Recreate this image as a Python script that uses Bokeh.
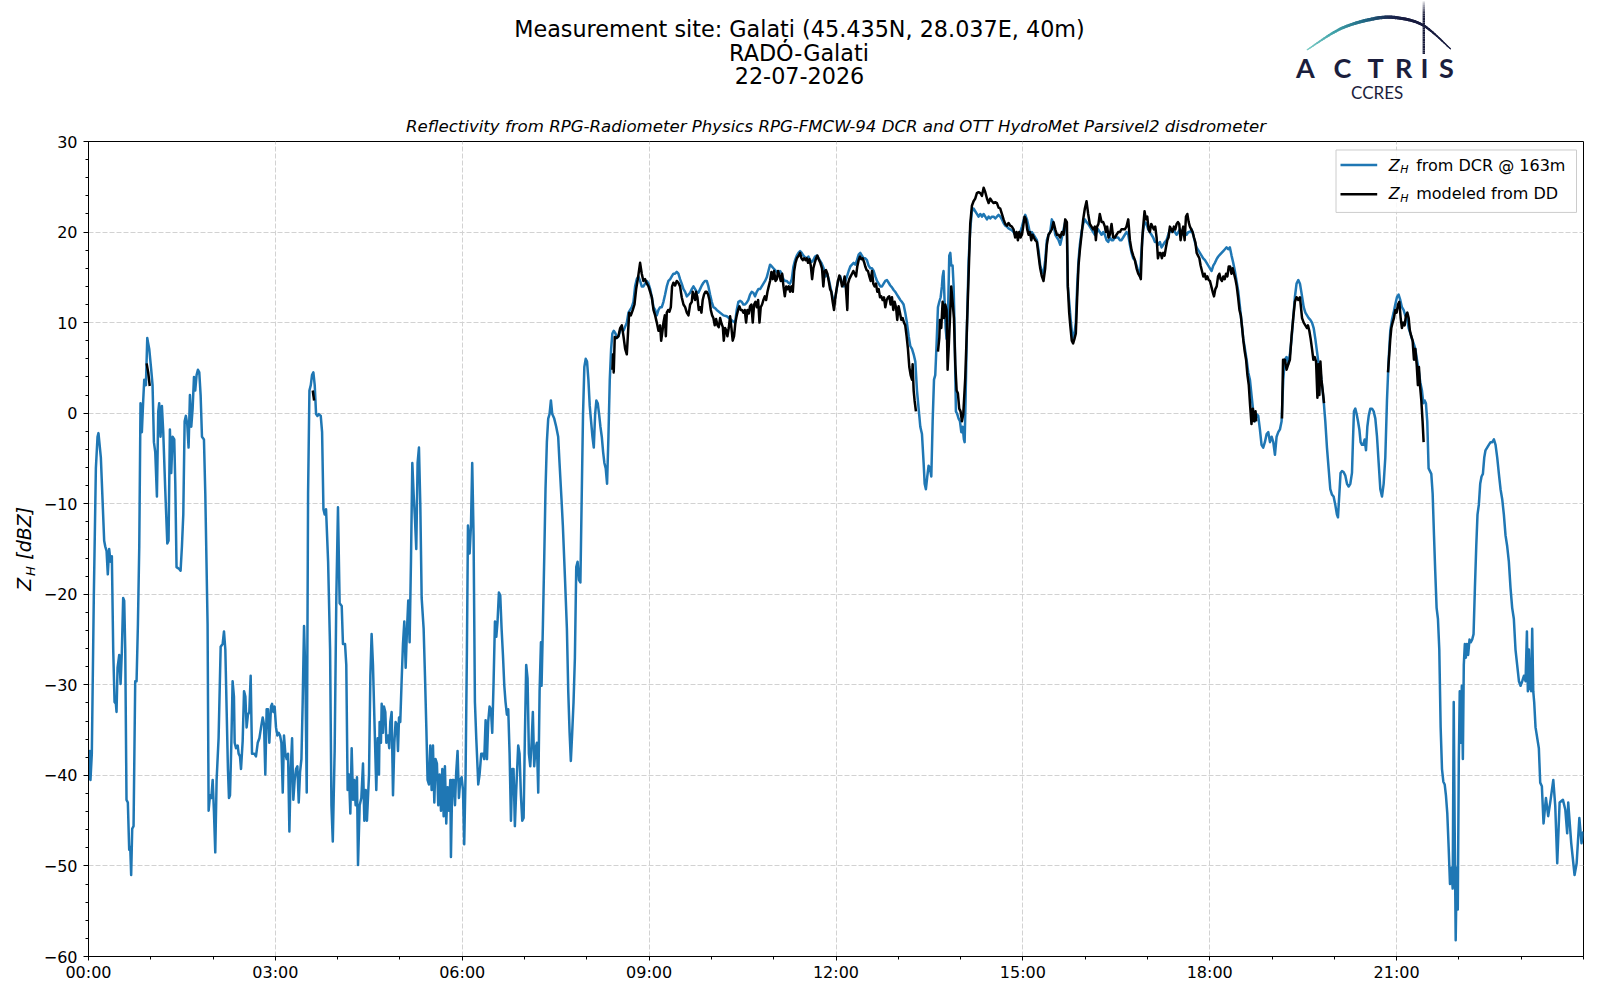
import math
from bokeh.plotting import figure
from bokeh.models import Range1d, FixedTicker
from bokeh.layouts import column, row
from bokeh.embed import file_html
from bokeh.resources import INLINE
from bokeh.core.properties import value

# ---------------- data (time in minutes after 00:00 UTC, Z in dBZ) ----------------
dcr_t_a = [0.0, 1.3, 1.9, 3.2, 5.1, 7.1, 8.7, 9.6, 11.9, 15.1,
           16.1, 17.4, 18.6, 19.9, 21.2, 22.5, 23.8, 25.1, 26.4, 27.0,
           28.0, 29.6, 30.9, 32.1, 33.4, 34.4, 35.4, 36.6, 37.9, 39.2,
           40.2, 41.1, 42.1, 43.4, 45.0, 46.3, 47.6, 48.9, 50.1, 51.4,
           52.7, 53.7, 55.3, 56.6, 57.2, 58.5, 60.4, 61.7, 63.0, 64.3,
           65.9, 67.2, 68.1, 69.4, 70.7, 72.0, 73.9, 75.9, 77.1, 78.4,
           79.7, 81.0, 82.6, 83.6, 84.8, 87.4, 88.7, 90.0, 91.3, 92.6,
           93.8, 95.1, 96.4, 97.7, 99.0, 100.3, 101.6, 102.8, 104.1, 105.4,
           106.7, 108.0, 109.3, 111.2, 112.5, 114.7, 115.7, 117.0, 118.3, 119.6,
           120.8, 122.1, 123.4, 125.3, 127.3, 129.2, 130.5, 131.8, 133.1, 134.3]
dcr_z_a = [-40.5, -37.3, -40.5, -37.6, -20.4, -6.1, -2.6, -2.2, -4.9, -14.1,
           -14.7, -15.2, -17.8, -15.0, -16.4, -15.8, -26.1, -31.9, -32.1, -33.0,
           -28.1, -26.7, -29.9, -26.4, -20.4, -20.7, -26.1, -42.7, -43.0, -48.2,
           -47.9, -51.0, -45.9, -45.6, -29.6, -29.6, -23.3, -14.7, 1.1, -2.1,
           1.4, 3.7, 3.1, 8.3, 7.9, 7.1, 4.8, 3.1, -3.2, -4.3,
           -9.2, 0.2, 1.1, -2.6, 0.8, -2.1, -8.4, -14.4, -14.1, -1.8,
           -6.6, -2.6, -2.9, -7.8, -17.0, -17.2, -17.4, -14.7, -11.2, -0.9,
           -0.3, -1.2, -3.8, 2.0, -1.5, 0.5, 4.0, 2.5, 4.2, 4.8,
           4.5, 2.0, -2.6, -2.9, -8.9, -23.3, -43.9, -42.2, -42.5, -40.5,
           -43.9, -48.5, -40.5, -35.9, -25.8, -25.5, -24.1, -26.1, -33.0, -39.3]

dcr_t_b = [135.3, 136.3, 137.6, 138.8, 140.1, 140.8, 142.1, 143.7, 144.6, 145.9,
           146.9, 148.5, 149.8, 151.1, 152.3, 153.6, 154.9, 156.2, 157.5, 159.7,
           161.3, 163.0, 164.6, 166.2, 167.8, 169.1, 170.3, 171.6, 172.9, 174.2,
           175.8, 176.8, 178.1, 179.3, 180.6, 181.9, 183.2, 184.5, 185.8, 187.1,
           188.3, 189.6, 190.9, 192.2, 193.5, 194.8, 196.1, 197.3, 198.6, 199.9,
           201.2, 202.5, 203.8, 205.1, 206.3, 207.6, 208.9, 210.2, 211.5, 212.8,
           214.1, 215.3, 216.6, 217.9, 219.2, 220.5, 221.8, 223.7, 225.0, 226.3,
           227.5, 228.8, 230.8, 232.7, 234.0, 235.3]
dcr_z_b = [-42.5, -42.2, -36.4, -29.6, -31.3, -36.4, -37.0, -36.7, -37.6, -37.9,
           -39.3, -36.2, -30.7, -31.3, -34.7, -33.3, -33.0, -29.0, -37.6, -37.6,
           -37.9, -36.4, -35.9, -34.7, -33.6, -34.4, -39.9, -32.7, -32.7, -36.4,
           -32.4, -32.1, -33.0, -32.4, -34.7, -35.6, -35.3, -35.6, -36.4, -41.9,
           -35.6, -37.6, -38.2, -37.6, -46.2, -39.3, -35.9, -42.7, -40.5, -39.3,
           -39.0, -43.0, -39.6, -38.2, -31.9, -23.5, -29.0, -41.9, -8.9, 2.5,
           3.1, 4.2, 4.5, 3.1, -0.1, -0.3, -0.1, -0.3, -2.1, -10.6,
           -11.2, -10.6, -16.4, -26.1, -43.3, -47.3]

dcr_t_c = [237.1, 238.7, 240.3, 241.9, 243.9, 245.1, 247.1, 248.3, 249.6, 250.9,
           252.2, 253.5, 254.8, 256.0, 257.3, 258.6, 259.6, 261.2, 262.8, 264.4,
           265.7, 267.0, 268.2, 270.2, 271.5, 272.7, 274.0, 275.6, 277.2, 278.5,
           279.8, 280.4, 281.7, 282.4, 283.6, 284.6, 285.9, 286.9, 288.5, 289.7,
           290.7, 292.0, 293.3, 294.6, 295.8, 297.1, 298.1, 299.1, 300.3, 301.6,
           302.9, 304.2, 305.5, 306.8, 308.0, 309.3, 310.6, 311.9, 313.2, 314.5,
           315.7, 317.0, 318.3, 319.6, 320.9, 322.8, 324.1, 325.4, 326.6, 327.9,
           329.2, 330.5, 331.8, 333.1, 334.3, 335.6, 336.9, 338.2, 339.5, 340.8,
           342.1, 343.3, 344.6, 345.9, 347.2, 348.5, 349.1, 350.4, 351.7, 353.0,
           354.2, 355.5, 356.8, 358.1, 359.4, 360.7, 361.9, 363.2, 364.5, 365.5]
dcr_z_c = [-37.3, -20.4, -10.4, -21.0, -21.3, -25.5, -25.5, -27.8, -41.6, -39.9,
           -44.2, -37.0, -42.7, -40.5, -43.3, -40.2, -49.9, -43.3, -42.5, -38.7,
           -45.0, -41.6, -45.0, -39.9, -29.0, -24.4, -27.8, -34.7, -41.6, -35.9,
           -39.9, -34.1, -36.4, -32.1, -35.3, -32.4, -33.0, -36.4, -35.6, -37.0,
           -34.1, -33.0, -42.2, -36.4, -34.1, -34.4, -37.3, -33.6, -34.1, -29.6,
           -25.5, -23.0, -28.1, -23.8, -20.7, -25.3, -16.4, -5.5, -9.0, -11.8,
           -15.0, -5.5, -3.8, -10.1, -20.4, -23.8, -29.0, -34.7, -40.5, -41.0,
           -36.7, -41.6, -36.7, -43.0, -38.2, -38.7, -43.3, -39.9, -43.9, -39.3,
           -44.5, -39.0, -45.3, -41.3, -43.9, -40.5, -49.0, -40.5, -40.5, -43.3,
           -39.6, -37.3, -42.5, -40.5, -40.2, -41.6, -47.6, -39.9, -26.1, -12.4]

dcr_t_d = [367.1, 368.4, 369.6, 370.9, 372.2, 373.5, 374.8, 375.4, 376.7, 378.3,
           379.9, 381.2, 382.5, 383.8, 385.0, 386.3, 387.6, 388.9, 390.2, 391.5,
           392.8, 394.0, 395.3, 396.6, 397.9, 399.2, 400.5, 401.7, 403.0, 404.3,
           405.6, 406.9, 408.2, 409.4, 410.7, 412.0, 413.9, 415.2, 416.5, 417.8,
           419.1, 420.3, 421.6, 422.9, 424.2, 425.5, 426.8, 428.0, 429.3, 430.6,
           431.9, 433.2, 434.5, 435.8, 436.4, 437.7, 439.0, 440.2, 441.5, 442.8,
           444.1, 445.4, 446.7, 448.6, 450.5, 452.4, 453.7, 455.6, 456.9, 458.9,
           460.8, 462.1, 463.4, 464.6, 465.9, 467.2, 468.5]
dcr_z_d = [-15.5, -12.4, -5.5, -13.5, -31.9, -35.9, -39.3, -41.0, -39.9, -37.6,
           -37.6, -38.2, -33.9, -38.2, -34.1, -32.4, -32.7, -35.3, -29.6, -23.0,
           -24.7, -23.0, -19.8, -20.1, -23.8, -26.7, -30.1, -31.9, -33.3, -32.7,
           -37.6, -45.0, -39.3, -39.3, -45.6, -41.6, -36.7, -37.6, -42.2, -45.0,
           -44.7, -35.9, -27.8, -29.3, -37.6, -39.0, -36.4, -33.0, -39.0, -37.0,
           -36.4, -41.9, -30.7, -25.3, -30.1, -23.3, -15.8, -8.4, -3.2, -0.6,
           -0.1, 1.4, -0.1, -0.6, -1.5, -2.6, -5.5, -9.5, -12.4, -18.1,
           -23.8, -30.7, -35.3, -38.4, -35.3, -31.9, -27.0]

dcr_t_e = [469.8, 471.1, 472.4, 473.8, 475.1, 476.3, 477.6, 478.9, 480.2, 481.5,
           482.8, 484.1, 485.4, 486.7, 488.0, 489.2, 490.5, 491.8, 493.1, 494.4,
           495.7, 496.9, 498.2, 499.5, 500.8, 502.1, 503.4, 504.6, 505.9, 507.6,
           509.1, 510.6, 512.1, 513.7, 515.3, 518.5, 520.1, 521.7, 523.3, 524.9,
           526.5, 528.1, 529.7, 531.3, 532.9, 534.5, 536.1, 537.8, 539.4, 541.0,
           542.6, 544.2, 545.8, 547.4, 549.0, 550.6, 552.2, 553.8, 555.4, 557.0,
           558.6, 560.3, 561.8, 563.4, 565.0, 566.6, 568.2, 569.8, 571.4, 573.1,
           574.7, 576.3, 577.9, 579.5, 581.1, 582.7, 584.3, 585.9, 587.5, 589.1,
           590.7, 592.3, 593.9, 595.5, 597.1, 598.7, 600.3, 601.9, 603.5, 605.1,
           608.4, 611.6, 614.8, 618.0, 621.2, 622.8, 624.4, 626.0, 627.6, 629.2]
dcr_z_e = [-17.0, -16.4, -18.4, -18.7, -9.0, -0.3, 5.1, 6.0, 5.7, 3.7,
           0.8, -0.9, -2.6, -3.8, -0.1, 1.4, 1.1, -0.1, -1.5, -2.6,
           -4.3, -5.5, -6.1, -7.8, -2.6, 3.7, 7.1, 8.8, 9.1, 8.8,
           8.3, 8.5, 9.1, 9.4, 9.1, 10.0, 11.1, 11.4, 11.7, 12.3,
           14.0, 14.8, 15.1, 14.6, 14.0, 14.0, 14.3, 14.6, 14.3, 13.7,
           12.8, 11.7, 11.4, 10.8, 11.4, 11.7, 11.7, 12.3, 13.1, 14.0,
           14.6, 14.8, 15.1, 15.4, 15.4, 15.6, 15.4, 14.8, 14.3, 13.7,
           13.4, 12.9, 13.1, 13.3, 13.7, 14.0, 13.7, 13.4, 13.3, 13.7,
           14.1, 14.4, 14.6, 14.6, 14.0, 13.1, 12.3, 11.7, 11.6, 11.4,
           11.1, 10.8, 10.7, 10.4, 10.1, 10.0, 11.4, 12.3, 12.4, 12.3]

dcr_t_f = [630.8, 632.4, 634.0, 635.6, 637.2, 638.8, 640.4, 642.0, 643.7, 645.2,
           646.9, 648.5, 650.1, 651.7, 653.3, 654.9, 656.5, 658.1, 659.7, 661.3,
           662.9, 664.5, 666.1, 667.7, 669.3, 670.9, 672.5, 674.1, 675.7, 677.4,
           679.0, 680.6, 682.2, 683.8, 685.4, 687.0, 688.6, 690.2, 691.8, 693.4,
           695.0, 696.6, 698.2, 699.8, 701.4]
dcr_z_f = [12.0, 12.0, 12.2, 12.5, 13.1, 13.4, 13.3, 12.9, 13.4, 13.7,
           13.7, 14.0, 14.3, 14.6, 15.0, 15.7, 16.4, 16.2, 16.0, 15.8,
           15.6, 15.4, 15.7, 15.4, 14.8, 14.6, 14.6, 14.4, 14.3, 14.8,
           16.2, 16.9, 17.4, 17.7, 17.9, 17.7, 17.4, 17.2, 17.1, 17.3,
           16.9, 16.7, 16.9, 17.3, 17.4]

dcr_t_g = [703.3, 705.9, 708.1, 709.7, 711.3, 713.0, 714.5, 716.1, 717.8, 719.4,
           721.0, 722.6, 724.2, 725.8, 727.4, 729.0, 730.6, 732.2, 733.8, 735.4,
           737.0, 738.6, 740.2, 741.8, 743.4, 745.0, 746.6, 748.2, 749.8, 751.4,
           753.1, 754.7, 756.3, 757.9, 759.5, 761.1, 762.7, 764.3, 765.9, 767.5,
           769.1, 770.7, 772.3, 773.9, 775.5, 777.1, 778.7, 780.3, 781.9, 783.5,
           785.1, 786.7, 788.3, 790.0, 791.6, 793.2, 794.8, 796.4, 798.0, 799.6,
           801.2, 802.8, 804.4, 805.4, 806.6, 807.9, 809.2, 810.5, 811.8, 813.1,
           814.4, 815.6, 816.9, 818.2, 819.5, 820.8, 822.0, 822.7, 823.6, 824.6,
           825.6, 826.5, 827.8, 829.1, 830.1, 831.0, 832.3, 833.3, 834.2, 835.5,
           836.8, 838.1, 839.4, 840.7, 842.0, 843.2, 843.9, 844.8, 846.1, 847.7]
dcr_z_g = [17.1, 16.6, 16.0, 15.1, 15.4, 14.8, 14.0, 13.1, 12.3, 12.8,
           14.0, 14.8, 15.1, 14.3, 14.0, 14.6, 15.1, 15.7, 16.2, 16.4,
           16.6, 16.4, 16.9, 17.5, 17.7, 17.4, 17.1, 17.1, 16.9, 16.3,
           16.0, 16.0, 15.7, 15.1, 14.6, 14.3, 14.0, 14.0, 14.3, 14.6,
           14.7, 14.4, 14.1, 13.9, 13.6, 13.4, 13.1, 12.8, 12.5, 12.3,
           12.0, 11.1, 10.0, 8.5, 7.4, 7.1, 6.5, 5.7, 2.5, 0.5,
           -1.5, -2.3, -5.5, -7.8, -8.4, -7.0, -5.8, -6.1, -7.0, -0.9,
           3.7, 4.2, 7.7, 11.7, 12.3, 12.8, 14.0, 15.1, 15.7, 12.3,
           9.4, 8.2, 10.5, 17.4, 17.7, 16.3, 16.3, 14.0, 9.4, 0.2,
           -0.1, -0.6, -0.9, -2.1, -1.5, -2.9, -3.2, 1.4, 9.4, 16.8]

dcr_t_h = [849.3, 850.9, 852.5, 854.1, 855.7, 857.3, 859.0, 860.6, 862.2, 863.8,
           865.4, 867.0, 868.6, 870.2, 871.8, 873.4, 875.0, 876.6, 878.2, 879.8,
           881.4, 883.0, 884.6, 886.2, 887.8, 889.4, 891.0, 892.6, 894.2, 895.9,
           897.5, 899.1, 900.7, 902.3, 903.9, 905.5, 907.1, 908.7, 910.3, 911.9,
           913.5, 915.1, 916.7, 918.3, 919.9, 921.5, 923.1, 924.7, 926.3, 927.9,
           929.5, 931.2, 932.8, 934.4, 936.0, 937.6, 939.2, 940.8, 942.4]
dcr_z_h = [20.3, 22.3, 22.6, 22.3, 22.0, 21.7, 22.0, 21.7, 22.0, 21.7,
           21.4, 21.7, 21.5, 21.7, 21.7, 21.5, 21.7, 21.9, 21.7, 21.4,
           21.0, 20.7, 20.6, 20.4, 20.3, 20.2, 20.0, 19.7, 19.7, 19.8,
           20.0, 20.6, 21.3, 21.9, 21.4, 20.6, 19.7, 20.0, 19.7, 19.4,
           19.1, 18.0, 16.3, 15.7, 15.4, 16.9, 19.1, 19.7, 20.0, 21.4,
           20.9, 19.7, 19.4, 19.1, 18.6, 19.4, 20.3, 21.1, 19.7]

dcr_t_i = [943.3, 944.6, 945.9, 947.1, 948.4, 949.7, 951.0, 952.3, 953.6, 954.9,
           956.5, 958.1, 959.7, 961.3, 962.9, 964.5, 966.1, 967.7, 969.3, 970.9,
           972.5, 974.1, 975.8, 977.4, 979.0, 980.6, 982.2, 983.8, 985.4, 987.0,
           988.6, 990.2, 991.8, 993.4, 995.0, 996.6, 998.2, 999.8, 1001.5, 1003.1,
           1004.7, 1006.3, 1007.9, 1009.5, 1011.1, 1012.7, 1014.3, 1015.9, 1017.5, 1019.1,
           1020.7, 1022.3, 1023.9, 1025.5, 1027.2, 1028.8, 1030.4, 1032.0, 1033.6, 1035.2,
           1036.8, 1038.4, 1040.0, 1041.6, 1043.2, 1044.8, 1046.4, 1048.1, 1049.7, 1051.3,
           1052.9, 1054.5, 1056.1, 1057.7, 1059.3, 1060.9, 1062.5, 1064.1, 1065.7, 1067.3,
           1068.9, 1070.5, 1072.1, 1073.7, 1075.4, 1077.0, 1078.6, 1080.2, 1081.8, 1083.4,
           1085.0, 1086.6, 1088.2, 1089.8, 1091.4, 1093.0, 1094.6, 1096.2, 1097.8, 1099.4]
dcr_z_i = [14.0, 12.3, 10.5, 9.1, 8.2, 8.8, 10.0, 14.0, 16.9, 18.6,
           20.0, 20.9, 21.4, 21.1, 20.9, 20.6, 20.3, 20.0, 19.7, 20.0,
           20.3, 20.0, 19.7, 20.0, 19.7, 19.1, 18.9, 19.4, 19.1, 19.1,
           19.4, 19.4, 19.4, 19.1, 19.1, 19.4, 19.7, 20.0, 19.7, 18.6,
           17.7, 17.1, 16.9, 16.3, 15.7, 15.1, 18.0, 20.3, 21.1, 20.9,
           20.3, 20.0, 19.7, 19.4, 18.9, 18.9, 18.6, 18.9, 18.3, 18.6,
           18.9, 19.1, 19.7, 20.3, 20.0, 20.3, 20.0, 19.7, 20.0, 20.3,
           20.0, 19.7, 20.0, 19.7, 20.0, 20.0, 20.3, 19.7, 18.9, 18.3,
           18.0, 17.7, 17.4, 17.1, 16.9, 16.6, 16.3, 16.0, 15.7, 16.3,
           16.6, 17.0, 17.3, 17.5, 17.7, 17.9, 18.1, 18.3, 18.1, 18.3]

dcr_t_j = [1101.0, 1102.6, 1104.2, 1105.8, 1107.5, 1109.1, 1110.7, 1112.3, 1113.9, 1115.5,
           1117.1, 1118.7, 1120.3, 1121.9, 1123.5, 1125.1, 1126.7, 1128.3, 1129.9, 1131.5,
           1133.1, 1134.8, 1136.4, 1138.0, 1139.6, 1141.2, 1142.8, 1144.4, 1146.0, 1147.6,
           1149.2, 1150.8, 1152.4, 1154.0, 1155.6, 1157.2, 1158.8, 1160.4, 1162.0, 1163.6,
           1165.3, 1166.9]
dcr_z_j = [17.4, 16.6, 15.7, 14.6, 13.4, 11.7, 10.0, 8.2, 7.1, 5.9,
           4.5, 3.7, 1.9, 0.2, -0.9, -0.1, -0.3, -1.8, -3.5, -3.8,
           -3.2, -2.3, -2.1, -3.2, -2.6, -3.2, -4.6, -2.6, -2.1, -1.8,
           -0.9, 3.7, 5.9, 6.2, 5.4, 6.5, 8.2, 10.5, 12.8, 14.3,
           14.7, 14.3]

dcr_t_k = [1168.9, 1170.5, 1172.1, 1173.7, 1175.3, 1176.9, 1178.5, 1180.1, 1181.7, 1183.3,
           1184.9, 1186.5, 1188.1, 1189.7, 1191.3, 1192.9, 1194.5, 1196.1, 1197.7, 1199.3,
           1200.9, 1202.5, 1203.5, 1204.8, 1206.0, 1207.4, 1208.9, 1210.6, 1212.2, 1213.8,
           1215.4, 1217.0, 1217.9, 1218.9, 1220.2, 1221.5, 1222.8, 1224.1, 1225.3, 1226.6,
           1227.9, 1229.2, 1230.5, 1231.8, 1233.1, 1234.6, 1236.3, 1237.9, 1239.5, 1241.1,
           1242.7, 1244.3, 1245.9, 1247.5, 1249.1, 1250.7, 1252.3, 1253.9, 1255.5, 1257.1,
           1258.7, 1260.3, 1261.9, 1263.5, 1265.1, 1266.7, 1268.3, 1269.9, 1271.6, 1273.2,
           1274.8, 1276.4, 1278.0, 1279.6, 1281.2, 1282.8, 1284.4, 1285.7, 1287.0, 1288.2,
           1289.5, 1290.8, 1292.1, 1293.4, 1294.7, 1296.0, 1297.2, 1298.5, 1299.8, 1301.1,
           1302.4, 1303.7, 1305.0, 1306.3, 1307.5, 1308.8, 1310.1, 1311.4, 1312.7, 1314.0]
dcr_z_k = [12.9, 11.7, 11.1, 10.8, 10.5, 10.3, 10.0, 9.4, 8.2, 6.8,
           5.4, 4.8, 3.1, 1.4, -0.9, -3.8, -6.1, -8.4, -9.0, -9.2,
           -10.1, -11.2, -11.5, -9.0, -6.6, -6.4, -6.5, -6.9, -7.8, -8.1,
           -7.8, -6.6, -3.2, 0.2, 0.5, -0.1, -0.9, -1.8, -3.2, -3.5,
           -3.5, -2.9, -4.1, -1.5, -0.3, 0.5, 0.5, 0.2, -0.6, -2.6,
           -5.5, -8.4, -9.2, -7.8, -4.9, 1.4, 5.9, 9.1, 10.3, 11.1,
           12.0, 12.8, 13.1, 12.5, 11.7, 11.4, 10.8, 10.5, 9.4, 8.8,
           8.2, 7.7, 7.1, 5.9, 4.8, 3.4, 2.5, 1.1, 1.4, 1.1,
           -0.9, -6.1, -6.4, -6.7, -8.9, -13.5, -17.5, -21.5, -22.7, -26.1,
           -34.7, -39.3, -40.7, -41.0, -42.2, -44.2, -47.9, -52.0, -50.2, -52.5]

dcr_t_l = [1315.0, 1315.9, 1316.9, 1317.9, 1318.9, 1319.9, 1320.8, 1321.8, 1322.8, 1323.8,
           1324.7, 1325.7, 1326.7, 1327.7, 1328.9, 1330.2, 1331.5, 1332.8, 1334.1, 1335.4,
           1336.7, 1337.9, 1339.2, 1340.5, 1341.8, 1343.1, 1344.4, 1345.6, 1347.2, 1348.8,
           1350.5, 1352.1, 1353.7, 1355.3, 1356.9, 1358.5, 1360.1, 1361.7, 1363.3, 1364.9,
           1366.5, 1368.1, 1369.7, 1371.3, 1372.9, 1374.5, 1376.1, 1377.8, 1379.4, 1381.0,
           1382.6, 1384.2, 1385.5, 1386.4, 1387.4, 1388.7, 1389.6, 1390.6, 1391.6, 1392.5,
           1393.8, 1397.0, 1398.3, 1399.9, 1401.5, 1403.8, 1406.0, 1408.3, 1410.9, 1412.8,
           1414.7, 1417.0, 1420.2, 1422.5, 1424.3, 1425.3, 1428.2, 1431.4, 1433.4, 1436.0,
           1438.1, 1439.8]
dcr_z_l = [-31.9, -45.6, -58.2, -50.2, -54.8, -38.2, -30.7, -36.4, -30.1, -38.2,
           -27.8, -25.5, -27.0, -25.5, -26.7, -25.0, -25.3, -25.0, -24.4, -19.3,
           -14.7, -11.2, -10.1, -7.8, -7.0, -6.7, -4.9, -4.1, -3.8, -3.5,
           -3.2, -3.2, -2.9, -3.5, -4.9, -6.7, -8.4, -9.5, -11.2, -13.5,
           -14.7, -16.4, -19.3, -21.5, -22.7, -26.1, -27.8, -29.6, -30.1, -29.6,
           -29.0, -29.6, -24.1, -30.7, -26.1, -30.4, -30.7, -23.8, -30.7, -31.9,
           -34.7, -37.0, -40.8, -41.2, -45.3, -42.5, -44.5, -42.7, -40.5, -43.4,
           -49.7, -43.0, -42.7, -43.8, -46.4, -43.0, -47.5, -51.0, -49.7, -44.7,
           -47.5, -46.2]

# Z modeled from disdrometer (DD): separate continuous pieces
dd1_t = [56.0, 57.5, 59.0]
dd1_z = [5.5, 4.5, 3.0]
dd2_t = [216.0, 217.3]
dd2_z = [2.5, 1.4]
dd3_t = [504.6, 505.3, 505.9, 506.9, 508.4, 510.4, 512.1, 513.7, 515.3, 516.9,
         518.5, 519.5, 520.8, 522.4, 524.3, 525.9, 527.5, 529.1, 531.3, 532.9,
         534.5, 536.1, 537.8, 539.4, 541.0, 542.6, 544.2, 545.8, 547.4, 549.0,
         550.6, 551.6, 552.9, 553.8, 555.1, 556.1, 557.0, 558.3, 559.6, 560.9,
         562.1, 563.4, 565.0, 566.6, 568.2, 569.8, 571.4, 573.1, 574.7, 576.3,
         577.9, 579.5, 581.1, 582.0, 583.3, 584.3, 585.2, 586.5, 587.8, 589.1,
         590.4, 591.6, 592.9, 594.2, 595.5, 596.8, 598.1, 599.4, 600.7, 601.9,
         603.2, 604.5, 605.8, 607.1, 608.4, 609.7, 611.0, 611.9, 613.2, 614.5,
         615.4, 616.7, 618.0, 619.3, 620.5, 621.8, 623.1, 624.4, 625.7, 627.0,
         628.2, 629.5, 630.8, 632.1, 633.4, 634.7, 636.0, 637.2, 638.5, 639.8]
dd3_z = [4.8, 6.5, 4.5, 8.4, 8.3, 8.5, 9.4, 9.7, 8.5, 7.1,
         6.5, 8.5, 11.1, 10.8, 11.4, 12.0, 13.7, 14.8, 16.6, 15.4,
         14.6, 14.8, 14.3, 14.0, 13.4, 12.8, 11.4, 10.8, 10.0, 9.1,
         9.7, 8.0, 9.1, 10.0, 10.8, 8.5, 11.1, 11.4, 11.2, 11.7,
         14.0, 14.4, 14.1, 14.6, 14.4, 14.0, 12.8, 12.0, 11.7, 11.1,
         10.8, 12.0, 12.3, 13.4, 12.9, 12.5, 13.4, 12.8, 11.4, 11.7,
         11.1, 12.5, 13.1, 13.4, 13.4, 13.1, 12.5, 11.4, 10.8, 10.5,
         9.7, 10.4, 9.7, 9.5, 10.5, 9.9, 9.5, 8.0, 9.4, 9.1,
         8.5, 9.4, 10.7, 9.4, 8.0, 8.5, 10.0, 10.8, 11.4, 11.8,
         11.4, 11.4, 11.1, 11.4, 10.0, 11.4, 11.0, 11.8, 12.0, 10.0]
dd4_t = [641.1, 642.4, 643.7, 645.0, 646.3, 647.5, 648.8, 650.1, 651.4, 652.7,
         654.0, 655.2, 656.5, 657.8, 659.1, 660.4, 661.7, 663.0, 664.2, 665.5,
         666.8, 668.1, 669.4, 670.7, 672.0, 673.3, 674.5, 675.8, 677.1, 678.4,
         679.7, 681.0, 682.3, 684.2, 685.4, 686.7, 688.0, 689.3, 690.6, 691.8,
         693.1, 694.4, 695.7, 697.0, 698.2, 699.5, 700.8, 702.1]
dd4_z = [12.0, 12.3, 11.7, 12.5, 10.0, 11.7, 12.0, 12.5, 12.9, 12.5,
         13.4, 14.0, 14.6, 15.6, 14.8, 15.7, 14.6, 14.8, 15.7, 15.2,
         14.6, 15.4, 14.0, 12.9, 14.0, 13.7, 14.0, 13.4, 14.0, 13.4,
         15.7, 16.6, 17.1, 17.4, 17.7, 17.1, 16.9, 17.1, 16.9, 17.1,
         16.6, 17.0, 16.3, 14.8, 16.0, 16.6, 17.1, 17.4]
dd5_t = [703.3, 704.9, 706.5, 707.8, 709.1, 710.4, 711.7, 713.0, 714.3, 715.5,
         716.8, 718.1, 719.4, 720.6, 721.9, 723.2, 724.5, 725.8, 727.1, 728.3,
         729.6, 730.9, 731.6, 732.8, 734.1, 735.4, 736.7, 738.0, 739.3, 740.5,
         741.8, 743.1, 744.4, 745.7, 747.0, 748.2, 749.5, 750.8, 752.1, 753.4,
         754.7, 755.9, 757.2, 758.5, 759.8, 761.1, 762.4, 763.6, 764.9, 766.2,
         767.5, 768.8, 770.1, 771.3, 772.6, 773.9, 775.2, 776.5, 777.8, 779.0,
         780.3, 781.6, 782.9, 784.2, 785.5, 786.7, 788.0, 789.3, 790.6, 791.9,
         793.2, 793.8, 794.8, 795.7, 797.0]
dd5_z = [17.0, 16.6, 16.0, 14.0, 15.7, 15.8, 15.4, 14.6, 13.7, 13.4,
         12.3, 11.4, 12.8, 13.7, 14.6, 15.2, 14.8, 14.0, 14.3, 15.1,
         13.7, 11.4, 14.3, 14.8, 15.1, 15.4, 15.7, 15.4, 15.1, 16.2,
         16.9, 17.3, 17.0, 17.1, 16.7, 16.2, 15.8, 15.7, 15.1, 14.6,
         15.7, 14.3, 14.0, 14.3, 13.4, 13.7, 12.8, 12.9, 12.5, 12.8,
         11.7, 12.5, 12.8, 12.9, 12.0, 12.8, 11.4, 12.3, 11.7, 10.3,
         11.8, 11.1, 10.3, 10.5, 10.0, 9.7, 8.5, 7.1, 5.1, 4.2,
         3.7, 5.4, 2.5, 1.4, 0.2]
dd6_t = [818.2, 819.5, 820.1, 821.4, 822.7, 824.0, 825.3, 826.5, 827.5, 828.5,
         829.8, 831.0, 832.3, 833.6, 834.9, 836.2, 837.4, 838.7, 840.0, 841.3,
         842.6, 844.5, 846.1, 847.7, 849.3, 850.9, 852.5, 854.1, 855.7, 857.3,
         859.0, 860.6, 862.2, 863.8, 865.4, 867.0, 868.6, 870.2, 871.8, 873.4,
         875.0, 876.6, 878.2, 879.8, 881.4, 883.0, 884.6, 886.2, 887.8, 889.4,
         891.0, 892.6, 893.9, 895.2, 896.5, 897.8, 899.1, 900.3, 901.6, 902.9,
         904.2, 905.5, 906.8, 908.1, 909.4, 910.6, 911.9, 913.5, 915.1, 916.7,
         918.3, 919.9, 921.5, 923.1, 924.7, 926.3, 927.9, 929.5, 931.2, 932.8,
         934.4, 936.0, 937.6, 939.2, 940.8, 942.4]
dd6_z = [6.8, 8.3, 10.3, 9.4, 12.3, 10.5, 12.0, 11.4, 4.8, 7.1,
         10.5, 14.0, 12.3, 10.5, 5.4, 2.5, 2.2, 0.5, 0.2, -0.9,
         -0.1, 3.9, 9.4, 15.1, 20.9, 22.9, 23.4, 23.7, 24.3, 24.4,
         24.3, 24.0, 24.9, 24.4, 23.7, 23.2, 23.7, 23.4, 23.2, 23.3,
         23.2, 22.7, 22.6, 22.0, 21.4, 20.9, 20.7, 21.0, 20.7, 20.6,
         20.3, 19.4, 20.0, 19.1, 20.0, 19.4, 19.7, 20.6, 21.7, 21.4,
         20.3, 19.7, 20.0, 19.1, 19.7, 19.4, 19.1, 18.9, 17.4, 16.0,
         15.1, 14.6, 16.0, 18.6, 19.7, 20.0, 20.3, 21.1, 20.3, 19.7,
         19.7, 19.4, 20.0, 19.7, 21.4, 21.1]
dd7_t = [943.3, 944.6, 945.9, 947.1, 948.4, 949.7, 951.0, 952.3, 953.6, 954.9,
         956.5, 958.1, 959.7, 961.3, 962.9, 964.5, 966.1, 967.7, 969.3, 970.3,
         971.5, 972.8, 974.1, 975.8, 977.4, 979.0, 979.9, 981.2, 982.5, 983.8,
         985.4, 987.0, 988.6, 990.2, 991.8, 993.4, 995.0, 996.6, 998.2, 999.8,
         1001.5, 1003.1, 1004.7, 1006.3, 1007.9, 1009.5, 1011.1, 1012.7, 1013.6, 1014.9,
         1015.9, 1017.2, 1018.5, 1019.8, 1021.1, 1022.3, 1023.6, 1024.9, 1026.2, 1027.5,
         1028.8, 1030.1, 1031.3, 1032.6, 1033.9, 1035.2, 1036.5, 1037.8, 1039.1, 1040.3,
         1041.6, 1042.9, 1044.2, 1045.5, 1046.8, 1048.1, 1049.4, 1050.6, 1051.9, 1053.2,
         1054.5, 1055.8, 1057.1, 1058.4, 1059.7, 1060.9, 1062.2, 1063.5, 1064.8, 1066.1,
         1067.4, 1068.7, 1070.0, 1071.2, 1072.5, 1073.8, 1075.1, 1076.4, 1077.7, 1079.0]
dd7_z = [14.0, 11.1, 9.4, 8.0, 7.7, 8.2, 8.8, 12.8, 16.3, 18.0,
         19.7, 21.4, 22.6, 23.4, 22.0, 20.9, 20.6, 20.3, 20.6, 19.1,
         20.6, 20.9, 22.0, 21.1, 21.1, 20.6, 20.0, 20.6, 19.4, 19.7,
         20.9, 19.4, 19.4, 19.7, 20.0, 20.0, 20.3, 20.3, 20.3, 20.6,
         21.4, 19.1, 18.0, 17.4, 16.9, 16.0, 15.4, 15.1, 14.8, 19.1,
         20.6, 22.3, 21.4, 21.7, 20.3, 20.0, 20.9, 20.6, 20.3, 20.6,
         19.4, 17.1, 17.7, 17.7, 17.1, 17.7, 17.4, 18.3, 19.1, 19.4,
         20.6, 20.3, 20.0, 20.6, 20.3, 20.9, 21.1, 20.9, 19.1, 20.0,
         20.6, 19.1, 21.7, 22.0, 21.1, 20.6, 20.3, 20.0, 19.4, 18.9,
         17.7, 17.4, 17.1, 16.3, 15.7, 15.1, 15.4, 14.8, 15.1, 14.7]
dd8_t = [1080.2, 1081.5, 1082.8, 1084.1, 1085.4, 1086.7, 1088.0, 1089.3, 1090.5, 1091.8,
         1093.1, 1094.4, 1095.7, 1097.0, 1098.3, 1099.6, 1100.9, 1102.1, 1103.4, 1104.7,
         1106.0, 1107.3, 1108.6, 1109.9, 1111.2, 1112.4, 1113.7, 1115.0, 1116.3, 1117.6,
         1118.9, 1120.2, 1121.5, 1122.8, 1124.1, 1124.7]
dd8_z = [14.6, 14.0, 13.4, 12.9, 13.7, 14.0, 15.1, 15.4, 14.8, 14.6,
         15.1, 14.8, 15.4, 15.1, 16.2, 16.2, 15.4, 16.0, 15.4, 14.8,
         14.0, 12.8, 11.4, 10.8, 9.4, 8.0, 6.8, 5.9, 4.2, 3.1,
         0.8, -1.2, 0.5, -0.9, 0.2, -0.9]
dd9_t = [1149.6, 1150.6, 1152.4, 1154.0, 1155.6, 1157.2, 1158.8, 1160.4, 1162.0, 1163.6,
         1165.3, 1166.9, 1168.9, 1170.5, 1172.1, 1173.7, 1174.6, 1175.9, 1177.2, 1178.5,
         1179.8, 1181.1, 1182.4, 1183.7, 1184.6, 1185.6, 1186.6, 1187.6, 1188.8, 1190.1]
dd9_z = [-0.6, 5.9, 5.9, 4.8, 5.4, 5.9, 8.5, 10.5, 12.3, 12.8,
         12.5, 12.8, 10.5, 10.0, 9.7, 9.4, 9.7, 9.1, 8.2, 7.1,
         5.9, 6.2, 5.7, 1.7, 5.4, 2.0, 5.7, 3.7, 2.5, 1.1]
dd10_t = [1251.7, 1252.9, 1253.9, 1254.9, 1256.1, 1257.4, 1258.7, 1260.0, 1261.3, 1262.6,
          1263.9, 1265.1, 1266.4, 1267.7, 1269.0, 1270.3, 1271.6, 1272.8, 1274.1, 1275.4,
          1276.7, 1278.0, 1279.3, 1280.5, 1281.5, 1282.5, 1283.8, 1285.0, 1286.0]
dd10_z = [4.5, 6.5, 8.2, 9.4, 10.0, 10.5, 11.4, 11.1, 12.0, 12.3,
          10.5, 9.4, 10.0, 9.7, 10.8, 11.1, 10.5, 9.1, 8.5, 8.0,
          5.9, 7.1, 5.4, 3.1, 5.1, 3.1, 1.4, -0.9, -3.2]

x_tick_minutes = [0, 180, 360, 540, 720, 900, 1080, 1260]
x_tick_labels = ["00:00", "03:00", "06:00", "09:00", "12:00", "15:00", "18:00", "21:00"]
y_ticks = [-60, -50, -40, -30, -20, -10, 0, 10, 20, 30]
y_tick_labels = ["\u221260", "\u221250", "\u221240", "\u221230", "\u221220", "\u221210", "0", "10", "20", "30"]

title_lines = ["Measurement site: Gala\u021bi (45.435N, 28.037E, 40m)", "RAD\u00d3-Galati", "22-07-2026"]
subtitle = "Reflectivity from RPG-Radiometer Physics RPG-FMCW-94 DCR and OTT HydroMet Parsivel2 disdrometer"
legend_rest = ["from DCR @ 163m", "modeled from DD"]

# ---------------- assemble ----------------
dcr_t, dcr_z = [], []
for tt, zz in [(dcr_t_a, dcr_z_a), (dcr_t_b, dcr_z_b), (dcr_t_c, dcr_z_c), (dcr_t_d, dcr_z_d),
               (dcr_t_e, dcr_z_e), (dcr_t_f, dcr_z_f), (dcr_t_g, dcr_z_g), (dcr_t_h, dcr_z_h),
               (dcr_t_i, dcr_z_i), (dcr_t_j, dcr_z_j), (dcr_t_k, dcr_z_k), (dcr_t_l, dcr_z_l)]:
    n = min(len(tt), len(zz))
    dcr_t += tt[:n]
    dcr_z += zz[:n]

dd_xs = [dd1_t, dd2_t, dd3_t + dd4_t + dd5_t, dd6_t + dd7_t + dd8_t, dd9_t, dd10_t]
dd_ys = [dd1_z, dd2_z, dd3_z + dd4_z + dd5_z, dd6_z + dd7_z + dd8_z, dd9_z, dd10_z]
dd_xs2, dd_ys2 = [], []
for a, b in zip(dd_xs, dd_ys):
    n = min(len(a), len(b))
    dd_xs2.append(a[:n])
    dd_ys2.append(b[:n])

# ---------------- layout constants (canvas pixels) ----------------
W = 1584
HEAD_H = 104
FRAME_L, FRAME_R = 88, 1583
FRAME_T, FRAME_B = 141, 957
TOTAL_H = 984
YLAB_W = 40
MAIN_W = W - YLAB_W
MAIN_H = TOTAL_H - HEAD_H
BT = FRAME_T - HEAD_H
BB = TOTAL_H - FRAME_B
BLUE = "#1f77b4"
NAVY = "#1b1e3d"
FONT = "DejaVu Sans"
LW = 2.5

# ---------------- header figure (pixel coordinates, y downward) ----------------
head = figure(width=W, height=HEAD_H, x_range=Range1d(FRAME_L, FRAME_R), y_range=Range1d(HEAD_H, 0),
              output_backend="svg", toolbar_location=None,
              min_border_left=FRAME_L, min_border_right=W - FRAME_R, min_border_top=0, min_border_bottom=0,
              x_axis_type=None, y_axis_type=None)
head.outline_line_color = None

head.text(x=[799, 798.5, 799], y=[28.3, 52.2, 74.7], text=title_lines,
          text_font=value(FONT), text_font_size=value("22.3px"), text_color="black",
          text_align="center", text_baseline="middle")

def grad(t):
    stops = [(0.0, (125, 205, 198)), (0.2, (62, 160, 168)), (0.42, (32, 100, 130)),
             (0.58, (28, 42, 82)), (0.7, (22, 26, 62)), (1.0, (22, 26, 62))]
    for (t0, c0), (t1, c1) in zip(stops[:-1], stops[1:]):
        if t <= t1:
            f = (t - t0) / (t1 - t0) if t1 > t0 else 0
            c = [int(round(c0[k] + (c1[k] - c0[k]) * f)) for k in range(3)]
            return "#%02x%02x%02x" % tuple(c)
    return "#16183e"

# logo arc: smooth Catmull-Rom curve through guide points (pixel layout of the logo)
arc_pts = [(1306.7, 49.3), (1340.0, 28.3), (1373.0, 18.3), (1396.7, 17.3), (1423.0, 25.0), (1450.0, 48.3)]
curve = []
M = 16
for i in range(len(arc_pts) - 1):
    p0 = arc_pts[i - 1] if i > 0 else arc_pts[i]
    p1, p2 = arc_pts[i], arc_pts[i + 1]
    p3 = arc_pts[i + 2] if i + 2 < len(arc_pts) else arc_pts[i + 1]
    for k in range(M):
        s = k / M
        s2, s3 = s * s, s * s * s
        xx = 0.5 * ((2 * p1[0]) + (-p0[0] + p2[0]) * s + (2 * p0[0] - 5 * p1[0] + 4 * p2[0] - p3[0]) * s2
                    + (-p0[0] + 3 * p1[0] - 3 * p2[0] + p3[0]) * s3)
        yy = 0.5 * ((2 * p1[1]) + (-p0[1] + p2[1]) * s + (2 * p0[1] - 5 * p1[1] + 4 * p2[1] - p3[1]) * s2
                    + (-p0[1] + 3 * p1[1] - 3 * p2[1] + p3[1]) * s3)
        curve.append((xx, yy))
curve.append(arc_pts[-1])
xa, xb = arc_pts[0][0], arc_pts[-1][0]
sx0, sy0, sx1, sy1, scol, swid = [], [], [], [], [], []
for (ax_, ay_), (bx_, by_) in zip(curve[:-1], curve[1:]):
    tm = ((ax_ + bx_) / 2 - xa) / (xb - xa)
    sx0.append(ax_); sy0.append(ay_); sx1.append(bx_); sy1.append(by_)
    scol.append(grad(tm))
    swid.append(1.1 + 2.2 * math.sin(math.pi * min(1.0, max(0.0, tm))) ** 0.8)
head.segment(x0=sx0, y0=sy0, x1=sx1, y1=sy1, line_color=scol, line_width=swid, line_cap="round")

vy = [1.0 + k * 1.75 for k in range(31)]
head.segment(x0=[1423.3] * 30, y0=vy[:-1], x1=[1423.3] * 30, y1=vy[1:],
             line_color=NAVY, line_width=2.4,
             line_alpha=[min(1.0, 0.12 + 0.88 * (v / 14.0)) for v in vy[:-1]])

head.text(x=[1305, 1342, 1375, 1403.3, 1424, 1445.8], y=[67.3] * 6,
          text=["A", "C", "T", "R", "I", "S"], text_font=value("Lato"), text_font_style="bold",
          text_font_size=value("27px"), text_color=NAVY,
          text_align="center", text_baseline="middle")
head.text(x=[1376.7], y=[92.2], text=["CCRES"], text_font=value("Lato"),
          text_font_size=value("17px"), text_color=NAVY,
          text_align="center", text_baseline="middle")

# ---------------- main figure ----------------
p = figure(width=MAIN_W, height=MAIN_H, x_range=Range1d(0, 1440), y_range=Range1d(-60, 30),
           output_backend="svg", toolbar_location=None,
           min_border_left=FRAME_L - YLAB_W, min_border_right=W - FRAME_R,
           min_border_top=BT, min_border_bottom=BB)
p.outline_line_color = "black"
p.outline_line_width = 1

p.title.text = subtitle
p.title.align = "center"
p.title.text_font = FONT
p.title.text_font_style = "italic"
p.title.text_font_size = "16.6px"
p.title.text_color = "black"
p.title.standoff = 11

p.xaxis.ticker = FixedTicker(ticks=x_tick_minutes, minor_ticks=list(range(0, 1441, 60)))
p.yaxis.ticker = FixedTicker(ticks=y_ticks, minor_ticks=list(range(-60, 31, 2)))
p.xaxis.major_label_overrides = {t: s for t, s in zip(x_tick_minutes, x_tick_labels)}
p.yaxis.major_label_overrides = {t: s for t, s in zip(y_ticks, y_tick_labels)}
for ax in (p.xaxis, p.yaxis):
    ax.axis_line_color = "black"
    ax.axis_line_width = 1
    ax.major_tick_line_color = "black"
    ax.minor_tick_line_color = "black"
    ax.major_tick_in = 0
    ax.minor_tick_out = 3
    ax.minor_tick_in = 0
    ax.major_label_text_font = FONT
    ax.major_label_text_font_size = "16px"
    ax.major_label_text_color = "black"
p.xaxis.major_tick_out = 4
p.yaxis.major_tick_out = 5
p.xaxis.major_label_standoff = 2
p.yaxis.major_label_standoff = 6

p.xgrid.ticker = FixedTicker(ticks=x_tick_minutes)
p.ygrid.ticker = FixedTicker(ticks=y_ticks)
p.grid.grid_line_color = "#d2d2d2"
p.grid.grid_line_width = 1
p.grid.grid_line_dash = "5 2"

p.line(dcr_t, dcr_z, line_color=BLUE, line_width=LW, line_join="round")
p.multi_line(dd_xs2, dd_ys2, line_color="black", line_width=LW, line_join="round")

# canvas pixel -> data helpers
def dx(tx):
    return (tx - FRAME_L) / (FRAME_R - FRAME_L) * 1440.0

def dy(ty):
    return 30.0 - (ty - FRAME_T) / (FRAME_B - FRAME_T) * 90.0

# legend (matplotlib style)
p.quad(left=[dx(1335.5)], right=[dx(1576)], top=[dy(149.5)], bottom=[dy(212)],
       fill_color="white", fill_alpha=0.85, line_color="#cccccc", line_width=1)
p.line([dx(1340), dx(1376.7)], [dy(164.5)] * 2, line_color=BLUE, line_width=LW)
p.line([dx(1340), dx(1376.7)], [dy(193.8)] * 2, line_color="black", line_width=LW)
p.text(x=[dx(1393.8)] * 2, y=[dy(165), dy(193.5)], text=["Z", "Z"],
       text_font=value(FONT), text_font_style="italic", text_font_size=value("16px"),
       text_color="black", text_align="center", text_baseline="middle")
p.text(x=[dx(1403.8)] * 2, y=[dy(169.2), dy(197.7)], text=["H", "H"],
       text_font=value(FONT), text_font_style="italic", text_font_size=value("11px"),
       text_color="black", text_align="center", text_baseline="middle")
p.text(x=[dx(1415.7)] * 2, y=[dy(165), dy(193.5)], text=legend_rest,
       text_font=value(FONT), text_font_size=value("16px"),
       text_color="black", text_align="left", text_baseline="middle")

# ---------------- y-label strip (Z_H [dBZ]) ----------------
ylab = figure(width=YLAB_W, height=MAIN_H, x_range=Range1d(0, YLAB_W), y_range=Range1d(-60, 30),
              output_backend="svg", toolbar_location=None,
              min_border_left=0, min_border_right=0, min_border_top=BT, min_border_bottom=BB,
              x_axis_type=None, y_axis_type=None)
ylab.outline_line_color = None
ylab.text(x=[23, 23], y=[dy(584.2), dy(533.3)], text=["Z", "[dBZ]"], angle=math.pi / 2,
          text_font=value(FONT), text_font_style="italic", text_font_size=value("19px"),
          text_color="black", text_align="center", text_baseline="middle")
ylab.text(x=[29.5], y=[dy(571.2)], text=["H"], angle=math.pi / 2,
          text_font=value(FONT), text_font_style="italic", text_font_size=value("13px"),
          text_color="black", text_align="center", text_baseline="middle")

layout = column(head, row(ylab, p, spacing=0), spacing=0)
open("out.html", "w").write(file_html(layout, INLINE))
